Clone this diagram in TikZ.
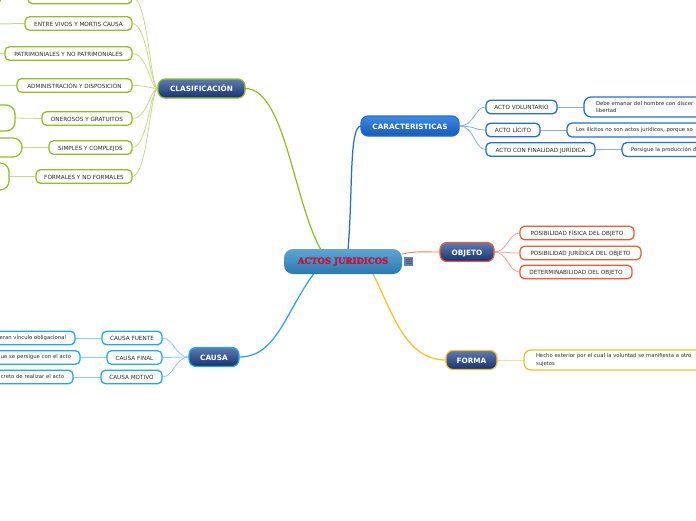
\documentclass[tikz,border=0pt]{standalone}
\usepackage{fontspec}
\setmainfont{DejaVu Sans}
\newfontfamily\rootfont[BoldFeatures={FakeBold=3}]{DejaVu Serif}
\usetikzlibrary{calc}
\pgfdeclarelayer{back}
\pgfsetlayers{back,main}
\definecolor{cgreen}{HTML}{92C020}
\definecolor{cblue}{HTML}{1E6FDC}
\definecolor{ccyan}{HTML}{1EA9EE}
\definecolor{cred}{HTML}{F45A2C}
\definecolor{cyel}{HTML}{FFBE22}
\definecolor{navyA}{HTML}{5C7CB4}
\definecolor{navyB}{HTML}{16326F}
\definecolor{txt}{HTML}{2A2A2A}
\definecolor{rootA}{HTML}{5CA6D6}
\definecolor{rootB}{HTML}{2A78AE}
\definecolor{rootT}{HTML}{C2143C}
\definecolor{blueA}{HTML}{3C8AE6}
\definecolor{blueB}{HTML}{1858B6}
\tikzset{
  every node/.style={inner sep=0pt,outer sep=0pt},
  sub/.style={draw=#1,fill=white,line width=1.3pt,rounded corners=4.5pt,text=txt,font=\fontsize{5.7}{7}\selectfont,anchor=center,minimum height=13.5pt,text height=5.3pt,text depth=0pt},
  wide/.style={draw=#1,fill=white,line width=1.3pt,rounded corners=7pt,text=txt,font=\fontsize{5.3}{7.2}\selectfont,anchor=west,text width=300pt,align=left,inner xsep=12pt},
  leftbox/.style={draw=#1,fill=white,line width=1.3pt,rounded corners=4.5pt,text=txt,font=\fontsize{5.3}{7}\selectfont,anchor=east,text width=100pt,align=right,inner xsep=9pt,minimum height=13.5pt},
  blank/.style={draw=cgreen,fill=white,line width=1.3pt,rounded corners=9pt,anchor=east,minimum width=60pt},
  mainbox/.style={draw=#1,line width=1.2pt,rounded corners=7pt,top color=navyA,bottom color=navyB,text=white,font=\bfseries\fontsize{7.3}{9}\selectfont,minimum height=19pt,anchor=center,text height=6.6pt,text depth=0pt},
  blink/.style={draw=#1!55,line width=0.8pt},
  trunk/.style={draw=#1,line width=1.25pt},
}
\begin{document}
\begin{tikzpicture}[x=1pt,y=-1pt]
\useasboundingbox (0,0) rectangle (696,520);
\clip (0,0) rectangle (696,520);
% root
\node[rounded corners=9pt,top color=rootA,bottom color=rootB,minimum width=118pt,minimum height=25pt,font=\rootfont\bfseries\fontsize{8.5}{10}\selectfont,text=rootT,anchor=center] (root) at (343,261.5) {ACTOS JURIDICOS};
\node[fill=rootB!85!white,minimum width=9pt,minimum height=9pt,anchor=center] (note) at (408.5,261.5) {};
\draw[rootT!60!rootB,line width=0.7pt] ($(note.center)+(-3,-2)$) -- ($(note.center)+(3,-2)$) ($(note.center)+(-3,0)$) -- ($(note.center)+(3,0)$) ($(note.center)+(-3,2)$) -- ($(note.center)+(3,2)$);
\coordinate (rootNW) at (321,250);
\coordinate (rootNE) at (348,250);
\coordinate (rootSW) at (315,272);
\coordinate (rootSE) at (372,272);
\coordinate (rootEE) at (402,254);
% main nodes
\node[mainbox=cgreen,minimum width=87pt] (clas) at (201.5,88.5) {CLASIFICACIÓN};
\node[mainbox=cblue,top color=blueA,bottom color=blueB,minimum height=20pt,minimum width=98pt] (cara) at (410,126) {CARACTERISTICAS};
\node[mainbox=cred,minimum width=54pt] (obj) at (467,252) {OBJETO};
\node[mainbox=cyel,minimum width=51pt] (forma) at (471.5,360) {FORMA};
\node[mainbox=ccyan,minimum width=50pt] (causa) at (214,357) {CAUSA};
% clasificacion children
\node[sub=cgreen,minimum width=104pt] (c0) at (80,-3) {};
\node[sub=cgreen,minimum width=107pt] (c1) at (78.5,23.5) {ENTRE VIVOS Y MORTIS CAUSA};
\node[sub=cgreen,minimum width=127pt] (c2) at (68.5,53.5) {PATRIMONIALES Y NO PATRIMONIALES};
\node[sub=cgreen,minimum width=115pt] (c3) at (74.5,85.5) {ADMINISTRACIÓN Y DISPOSICIÓN};
\node[sub=cgreen,minimum width=90pt] (c4) at (87,118.5) {ONEROSOS Y GRATUITOS};
\node[sub=cgreen,minimum width=83pt] (c5) at (90.5,147.5) {SIMPLES Y COMPLEJOS};
\node[sub=cgreen,minimum width=96pt] (c6) at (84,176.5) {FORMALES Y NO FORMALES};
\node[blank,minimum height=26pt] (d4) at (15,118) {};
\node[blank,minimum height=19pt] (d5) at (22,147.5) {};
\node[blank,minimum height=27pt] (d6) at (9,176.5) {};
\node[blank,minimum height=12pt,rounded corners=4.5pt] (d0) at (1,-3) {};
\coordinate (e1) at (-2,24);
\coordinate (e2) at (-2,53.5);
\coordinate (e3) at (-2,85.5);
% caracteristicas children
\node[sub=cblue,minimum width=71pt] (k1) at (521.5,107) {ACTO VOLUNTARIO};
\node[sub=cblue,minimum width=54pt] (k2) at (513,130) {ACTO LÍCITO};
\node[sub=cblue,minimum width=109pt] (k3) at (540.5,149.5) {ACTO CON FINALIDAD JURÍDICA};
\node[wide=cblue,minimum height=20pt] (m1) at (584,107) {Debe emanar del hombre con discer\\libertad};
\node[wide=cblue,minimum height=14pt,rounded corners=5pt,inner xsep=9pt] (m2) at (567,130) {Los ilícitos no son actos jurídicos, porque so};
\node[wide=cblue,minimum height=14pt,rounded corners=5pt,inner xsep=9pt] (m3) at (622,149.5) {Persigue la producción d};
% objeto children
\node[sub=cred,minimum width=114pt] (o1) at (577,233) {POSIBILIDAD FÍSICA DEL OBJETO};
\node[sub=cred,minimum width=121pt] (o2) at (580.5,253) {POSIBILIDAD JURÍDICA DEL OBJETO};
\node[sub=cred,minimum width=112pt] (o3) at (576,272) {DETERMINABILIDAD DEL OBJETO};
% forma child
\node[wide=cyel,minimum height=20pt] (f1) at (524,360) {Hecho exterior por el cual la voluntad se manifiesta a otro\\sujetos};
% causa children
\node[sub=ccyan,minimum width=60pt] (a1) at (132,338) {CAUSA FUENTE};
\node[sub=ccyan,minimum width=55pt] (a2) at (134.5,357.5) {CAUSA FINAL};
\node[sub=ccyan,minimum width=61pt] (a3) at (131.5,377) {CAUSA MOTIVO};
\node[leftbox=ccyan] (b1) at (75,338) {eran vínculo obligacional};
\node[leftbox=ccyan] (b2) at (80,357.5) {ue se persigue con el acto};
\node[leftbox=ccyan] (b3) at (73,377) {creto de realizar el acto};
% connectors
\begin{pgfonlayer}{back}
\draw[trunk=cgreen] (clas.east) .. controls +(40,0) and +(-28,-50) .. (rootNW);
\draw[trunk=cblue] (cara.west) .. controls +(-12,0) and +(5,-60) .. (rootNE);
\draw[trunk=ccyan] (causa.east) .. controls +(38,0) and +(-30,40) .. (rootSW);
\draw[trunk=cyel] (forma.west) .. controls +(-42,0) and +(20,38) .. (rootSE);
\draw[draw=cred!80,line width=0.9pt] (rootEE) .. controls +(15,-3) and +(-20,0) .. (obj.west);
\foreach \n in {c0,c1,c2,c3,c4,c5,c6}{
  \draw[blink=cgreen] (\n.east) .. controls +(16,0) and +(-8,0) .. (clas.west);
}
\draw[blink=cgreen,line width=1pt] (c1.west) -- (e1);
\draw[blink=cgreen] (c2.west) -- (e2);
\draw[blink=cgreen,line width=1pt] (c3.west) -- (e3);
\draw[blink=cgreen] (c4.west) -- (d4.east);
\draw[blink=cgreen] (c5.west) -- (d5.east);
\draw[blink=cgreen,line width=1pt] (c6.west) -- (d6.east);
\foreach \n in {k1,k2,k3}{
  \draw[blink=cblue] (cara.east) .. controls +(16,0) and +(-12,0) .. (\n.west);
}
\draw[blink=cblue] (k1.east) -- (m1.west);
\draw[blink=cblue,line width=1pt] (k2.east) -- (m2.west);
\draw[blink=cblue] (k3.east) -- (m3.west);
\foreach \n in {o1,o2,o3}{
  \draw[blink=cred] (obj.east) .. controls +(14,0) and +(-12,0) .. (\n.west);
}
\draw[blink=cyel] (forma.east) -- (f1.west);
\foreach \n in {a1,a2,a3}{
  \draw[blink=ccyan] (\n.east) .. controls +(12,0) and +(-14,0) .. (causa.west);
}
\draw[blink=ccyan] (a1.west) -- (b1.east);
\draw[blink=ccyan] (a2.west) -- (b2.east);
\draw[blink=ccyan] (a3.west) -- (b3.east);
\end{pgfonlayer}
\end{tikzpicture}
\end{document}
